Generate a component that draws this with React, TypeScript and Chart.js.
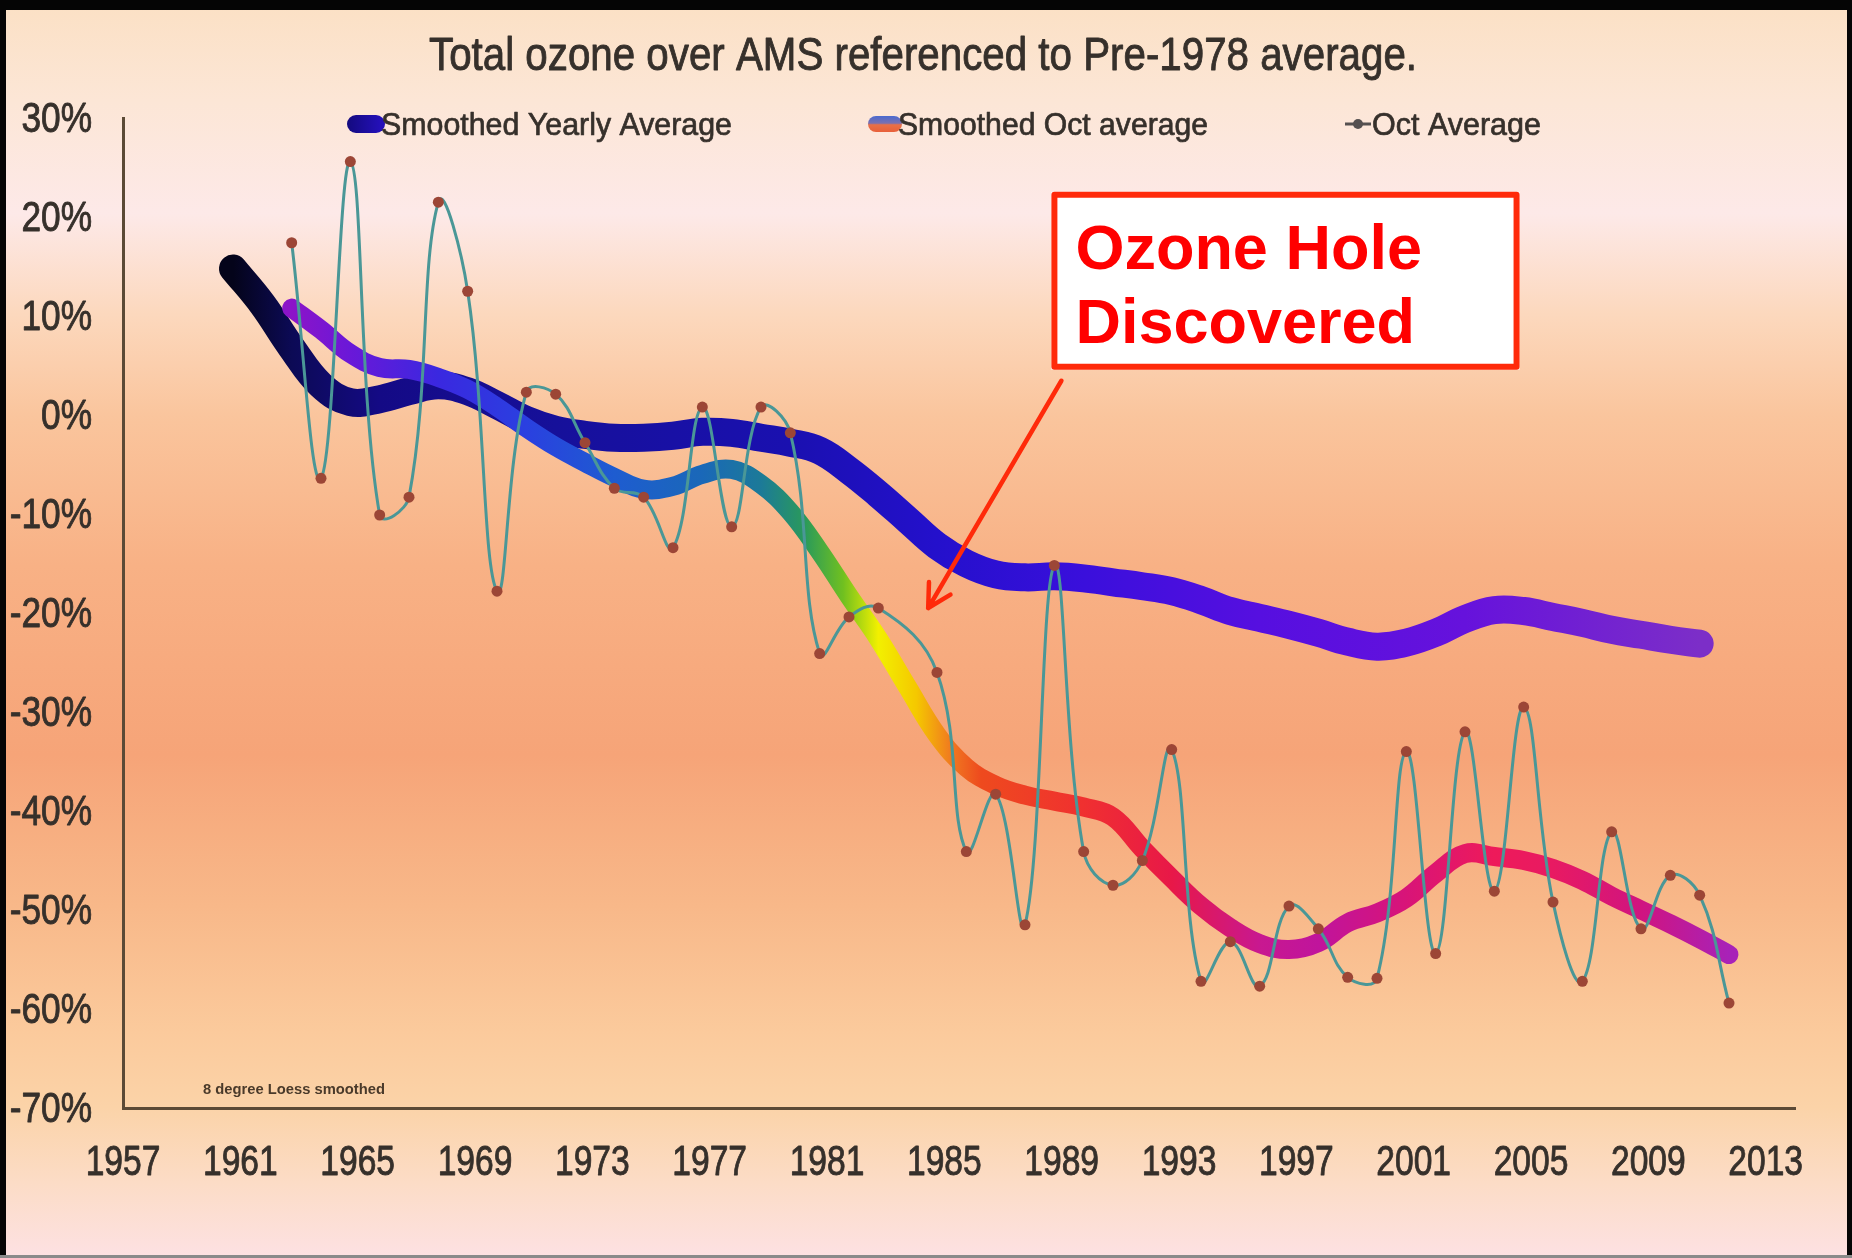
import React, { useEffect, useRef } from 'react';
import { Chart, registerables } from 'chart.js';

Chart.register(...registerables);

// ---------------- data ----------------
const OCT_YEARS = [
  1963, 1964, 1965, 1966, 1967, 1968, 1969, 1970, 1971, 1972,
  1973, 1974, 1975, 1976, 1977, 1978, 1979, 1980, 1981, 1982,
  1983, 1984, 1985, 1986, 1987, 1988, 1989, 1990, 1991, 1992,
  1993, 1994, 1995, 1996, 1997, 1998, 1999, 2000, 2001, 2002,
  2003, 2004, 2005, 2006, 2007, 2008, 2009, 2010, 2011, 2012,
];

const OCT_AVERAGE = [
  17.4, -6.4, 25.6, -10.1, -8.3, 21.5, 12.5, -17.8, 2.3, 2.1,
  -2.8, -7.4, -8.3, -13.4, 0.8, -11.3, 0.8, -1.8, -24.1, -20.4,
  -19.5, null, -26.0, -44.1, -38.3, -51.5, -15.2, -44.1, -47.5, -45.0,
  -33.8, -57.2, -53.2, -57.7, -49.6, -51.9, -56.8, -56.9, -34.0, -54.4,
  -32.0, -48.1, -29.5, -49.2, -57.2, -42.1, -51.9, -46.5, -48.5, -59.4,
];

const SMOOTHED_OCT = [
  10.8, 8.6, 6.2, 4.8, 4.6, 3.8, 2.6, 0.8, -1.3, -3.2,
  -4.8, -6.3, -7.5, -7.2, -6.0, -5.5, -7.0, -9.8, -13.8, -18.3,
  -22.6, -27.5, -32.3, -35.6, -37.4, -38.4, -39.0, -39.6, -40.6, -43.8,
  -46.8, -49.6, -51.8, -53.4, -54.0, -53.3, -51.3, -50.3, -48.8, -46.3,
  -44.3, -44.6, -45.0, -45.8, -47.0, -48.6, -50.0, -51.4, -52.9, -54.5,
];

const YEARLY_YEARS = [
  1961, 1962, 1963, 1964, 1965, 1966, 1967, 1968, 1969, 1970,
  1971, 1972, 1973, 1974, 1975, 1976, 1977, 1978, 1979, 1980,
  1981, 1982, 1983, 1984, 1985, 1986, 1987, 1988, 1989, 1990,
  1991, 1992, 1993, 1994, 1995, 1996, 1997, 1998, 1999, 2000,
  2001, 2002, 2003, 2004, 2005, 2006, 2007, 2008, 2009, 2010,
  2011,
];

const SMOOTHED_YEARLY = [
  14.8, 11.2, 6.8, 3.0, 1.3, 1.6, 2.4, 3.0, 2.4, 1.0,
  -0.5, -1.5, -2.0, -2.3, -2.3, -2.1, -1.7, -1.8, -2.3, -2.8,
  -3.6, -5.6, -8.0, -10.6, -13.2, -15.0, -16.1, -16.4, -16.3, -16.5,
  -16.9, -17.3, -17.8, -18.7, -19.8, -20.5, -21.2, -22.0, -22.9, -23.4,
  -23.0, -22.0, -20.6, -19.7, -19.8, -20.4, -21.0, -21.7, -22.2, -22.7,
  -23.1,
];

const X_TICK_LABELS = [1957, 1961, 1965, 1969, 1973, 1977, 1981, 1985, 1989, 1993, 1997, 2001, 2005, 2009, 2013];
const TICK_OFFSET = 0.25; // Excel places labels a quarter year before the October points
const X_MIN = 1957.25;
const X_MAX = 2014.25;
const Y_MIN = -70;
const Y_MAX = 30;
const Y_STEP = 10;

const TITLE = 'Total ozone over AMS referenced to Pre-1978 average.';
const LABEL_YEARLY = 'Smoothed Yearly Average';
const LABEL_SMOOTH_OCT = 'Smoothed Oct average';
const LABEL_OCT = 'Oct Average';
const NOTE = '8 degree Loess smoothed';
const CALLOUT_LINES = ['Ozone Hole', 'Discovered'];
// callout anchors in axis units
const CALLOUT_BOX = { x0: 1988.9, x1: 2004.86, yTop: 22.55, yBottom: 4.57 };
const ARROW_TIP = { x: 1984.7, y: -19.5 };

// colour ramps along the year axis
const YEARLY_STOPS: [number, string][] = [
  [1961, '#04041a'], [1963, '#0c0a55'], [1966, '#140a85'], [1972, '#16109a'],
  [1980, '#1a10b0'], [1985, '#2410cc'], [1990, '#3a0fdc'], [1996, '#560fe0'],
  [2003, '#6612dc'], [2011, '#7c2ec8'],
];
const OCT_STOPS: [number, string][] = [
  [1963, '#8c14c8'], [1965, '#6a18d8'], [1968, '#3a28e0'], [1971, '#2a40e0'],
  [1974, '#1e5cd0'], [1977, '#1a68b8'], [1979, '#1c7a98'], [1980.5, '#2a9a5a'],
  [1981.8, '#70c020'], [1983, '#f2f000'], [1984.3, '#f5c800'], [1985.5, '#f07820'],
  [1986.5, '#ee4a1e'], [1990, '#f03030'], [1993, '#e81848'], [1996, '#c81890'],
  [1998, '#c0149c'], [2001, '#d81478'], [2004, '#ee1a5a'], [2006, '#e81a62'],
  [2009, '#d01480'], [2012, '#a822b8'],
];

const SANS = "'Liberation Sans', Arial, sans-serif";
const TEXT_COLOR = '#36302b';
const TICK_FONT = `42px ${SANS}`;
const TICK_SQUEEZE = 0.8;

const W = 1852;
const H = 1258;

function rampGradient(chart: any, stops: [number, string][]) {
  const xs = chart.scales && chart.scales.x;
  if (!xs || !chart.chartArea) return stops[0][1];
  const x0 = xs.getPixelForValue(stops[0][0]) - 20;
  const x1 = xs.getPixelForValue(stops[stops.length - 1][0]) + 20;
  const g = chart.ctx.createLinearGradient(x0, 0, x1, 0);
  stops.forEach(([yr, c]) => {
    const t = Math.min(1, Math.max(0, (xs.getPixelForValue(yr) - x0) / (x1 - x0)));
    g.addColorStop(t, c);
  });
  return g;
}

// draw text squeezed horizontally (narrow face look), slightly heavier
function squeezed(ctx: CanvasRenderingContext2D, text: string, x: number, y: number, sx: number, align: CanvasTextAlign, weight = 0.9) {
  ctx.save();
  ctx.translate(x, y);
  ctx.scale(sx, 1);
  ctx.textAlign = align;
  ctx.fillText(text, 0, 0);
  if (weight > 0) {
    ctx.strokeStyle = ctx.fillStyle as string;
    ctx.lineWidth = weight;
    ctx.lineJoin = 'round';
    ctx.strokeText(text, 0, 0);
  }
  ctx.restore();
}

function fitted(ctx: CanvasRenderingContext2D, text: string, x: number, y: number, width: number, align: CanvasTextAlign, weight = 0.9) {
  const w = ctx.measureText(text).width;
  squeezed(ctx, text, x, y, width / w, align, weight);
}

const backgroundPlugin = {
  id: 'pageBackground',
  beforeDraw(chart: any) {
    const { ctx } = chart;
    ctx.save();
    const g = ctx.createLinearGradient(0, 0, 0, H);
    g.addColorStop(0.0, '#fbe0c4');
    g.addColorStop(0.08, '#fce6d6');
    g.addColorStop(0.17, '#fde9e8');
    g.addColorStop(0.25, '#fcd8bd');
    g.addColorStop(0.33, '#fac59d');
    g.addColorStop(0.45, '#f8b185');
    g.addColorStop(0.6, '#f6a478');
    g.addColorStop(0.72, '#f8b889');
    g.addColorStop(0.82, '#fbca9c');
    g.addColorStop(0.88, '#fbd3a8');
    g.addColorStop(0.94, '#fcdcc6');
    g.addColorStop(1.0, '#fde1e3');
    ctx.fillStyle = g;
    ctx.fillRect(0, 0, W, H);
    ctx.restore();
  },
};

// tick labels from the library's own scale ticks, drawn in a narrow style
const tickLabelPlugin = {
  id: 'narrowTicks',
  afterDraw(chart: any) {
    const { ctx, chartArea } = chart;
    const xs = chart.scales.x;
    const ys = chart.scales.y;
    ctx.save();
    ctx.fillStyle = TEXT_COLOR;
    ctx.font = TICK_FONT;
    ctx.textBaseline = 'middle';
    xs.ticks.forEach((t: any, i: number) => {
      const px = xs.getPixelForTick(i);
      squeezed(ctx, String(t.label), px, chartArea.bottom + 55, TICK_SQUEEZE, 'center');
    });
    ys.ticks.forEach((t: any, i: number) => {
      const py = ys.getPixelForTick(i);
      squeezed(ctx, String(t.label), chartArea.left - 31, py + 2, 0.84, 'right');
    });
    ctx.restore();
  },
};

const overlayPlugin = {
  id: 'overlay',
  afterDraw(chart: any) {
    const { ctx } = chart;
    const xs = chart.scales.x;
    const ys = chart.scales.y;
    ctx.save();

    // title
    ctx.fillStyle = TEXT_COLOR;
    ctx.font = `47px ${SANS}`;
    ctx.textBaseline = 'alphabetic';
    fitted(ctx, TITLE, 923, 70, 988, 'center');

    // legend
    const ds = chart.data.datasets;
    const legendY = 124;
    ctx.font = `32px ${SANS}`;
    ctx.textBaseline = 'middle';
    // item 1 : yearly swatch
    ctx.lineCap = 'round';
    ctx.lineWidth = 18;
    const g1 = ctx.createLinearGradient(348, 0, 380, 0);
    g1.addColorStop(0, '#140a80');
    g1.addColorStop(1, '#2410b8');
    ctx.strokeStyle = g1;
    ctx.beginPath();
    ctx.moveTo(356, legendY);
    ctx.lineTo(376, legendY);
    ctx.stroke();
    ctx.fillStyle = TEXT_COLOR;
    fitted(ctx, ds[2].label, 381, legendY + 2, 351, 'left', 0.7);
    // item 2 : smoothed oct swatch
    const g2 = ctx.createLinearGradient(0, legendY - 8, 0, legendY + 8);
    g2.addColorStop(0, '#4a6ad0');
    g2.addColorStop(0.45, '#7a70b0');
    g2.addColorStop(0.55, '#e87048');
    g2.addColorStop(1, '#e8603a');
    ctx.strokeStyle = g2;
    ctx.lineWidth = 16;
    ctx.beginPath();
    ctx.moveTo(876, legendY);
    ctx.lineTo(894, legendY);
    ctx.stroke();
    ctx.fillStyle = TEXT_COLOR;
    fitted(ctx, ds[1].label, 898, legendY + 2, 310, 'left', 0.7);
    // item 3 : oct average marker
    ctx.strokeStyle = '#555050';
    ctx.lineWidth = 3;
    ctx.lineCap = 'butt';
    ctx.beginPath();
    ctx.moveTo(1345, legendY);
    ctx.lineTo(1371, legendY);
    ctx.stroke();
    ctx.fillStyle = '#555050';
    ctx.beginPath();
    ctx.arc(1358, legendY, 5, 0, Math.PI * 2);
    ctx.fill();
    ctx.fillStyle = TEXT_COLOR;
    fitted(ctx, ds[0].label, 1372, legendY + 2, 169, 'left', 0.7);

    // note
    ctx.font = `bold 15px ${SANS}`;
    ctx.fillStyle = '#4a3a2a';
    ctx.textBaseline = 'middle';
    fitted(ctx, NOTE, 203, 1090, 182, 'left', 0);

    // callout box
    const bx0 = xs.getPixelForValue(CALLOUT_BOX.x0);
    const bx1 = xs.getPixelForValue(CALLOUT_BOX.x1);
    const by0 = ys.getPixelForValue(CALLOUT_BOX.yTop);
    const by1 = ys.getPixelForValue(CALLOUT_BOX.yBottom);
    ctx.fillStyle = '#ffffff';
    ctx.fillRect(bx0, by0, bx1 - bx0, by1 - by0);
    ctx.strokeStyle = '#ff2a0a';
    ctx.lineWidth = 6;
    ctx.lineJoin = 'round';
    ctx.strokeRect(bx0 + 3, by0 + 3, bx1 - bx0 - 6, by1 - by0 - 6);
    ctx.fillStyle = '#ff0000';
    ctx.font = `bold 63px ${SANS}`;
    ctx.textBaseline = 'alphabetic';
    ctx.textAlign = 'left';
    ctx.fillText(CALLOUT_LINES[0], bx0 + 24, by0 + 77);
    ctx.fillText(CALLOUT_LINES[1], bx0 + 24, by0 + 151);

    // arrow
    const tx = xs.getPixelForValue(ARROW_TIP.x);
    const ty = ys.getPixelForValue(ARROW_TIP.y);
    const sx = bx0 + 10;
    const sy = by1 + 11;
    ctx.strokeStyle = '#ff2a0a';
    ctx.lineWidth = 4.5;
    ctx.lineCap = 'round';
    ctx.beginPath();
    ctx.moveTo(sx, sy);
    ctx.lineTo(tx, ty);
    const ang = Math.atan2(ty - sy, tx - sx);
    const hl = 26;
    const spread = 0.5;
    ctx.moveTo(tx - hl * Math.cos(ang - spread), ty - hl * Math.sin(ang - spread));
    ctx.lineTo(tx, ty);
    ctx.lineTo(tx - hl * Math.cos(ang + spread), ty - hl * Math.sin(ang + spread));
    ctx.stroke();

    // frame
    ctx.fillStyle = '#050505';
    ctx.fillRect(0, 0, W, 10);
    ctx.fillRect(0, 0, 6, H);
    ctx.fillRect(W - 5, 0, 5, H);
    ctx.fillStyle = '#8a8a8a';
    ctx.fillRect(0, H - 3, W, 3);
    ctx.restore();
  },
};

export default function App() {
  const canvasRef = useRef<HTMLCanvasElement | null>(null);

  useEffect(() => {
    if (!canvasRef.current) return;
    const chart = new Chart(canvasRef.current, {
      type: 'line',
      data: {
        datasets: [
          {
            label: LABEL_OCT,
            data: OCT_YEARS.map((yr, i) => ({ x: yr, y: OCT_AVERAGE[i] })),
            borderColor: '#4a9797',
            borderWidth: 3,
            tension: 0.4,
            spanGaps: true,
            pointRadius: 5.5,
            pointBackgroundColor: '#9c4636',
            pointBorderColor: '#9c4636',
            pointBorderWidth: 0,
            fill: false,
          },
          {
            label: LABEL_SMOOTH_OCT,
            data: OCT_YEARS.map((yr, i) => ({ x: yr, y: SMOOTHED_OCT[i] })),
            borderColor: (c: any) => rampGradient(c.chart, OCT_STOPS),
            borderWidth: 19,
            borderCapStyle: 'round',
            borderJoinStyle: 'round',
            tension: 0.4,
            pointRadius: 0,
            fill: false,
          },
          {
            label: LABEL_YEARLY,
            data: YEARLY_YEARS.map((yr, i) => ({ x: yr, y: SMOOTHED_YEARLY[i] })),
            borderColor: (c: any) => rampGradient(c.chart, YEARLY_STOPS),
            borderWidth: 28,
            borderCapStyle: 'round',
            borderJoinStyle: 'round',
            tension: 0.4,
            pointRadius: 0,
            fill: false,
          },
        ],
      },
      options: {
        animation: false,
        responsive: false,
        devicePixelRatio: 1,
        events: [],
        layout: { padding: { top: 118, right: 57, bottom: 0, left: 0 } },
        plugins: {
          legend: { display: false },
          title: { display: false },
          tooltip: { enabled: false },
        },
        scales: {
          x: {
            type: 'linear',
            min: X_MIN,
            max: X_MAX,
            afterBuildTicks: (scale: any) => {
              scale.ticks = X_TICK_LABELS.map((v) => ({ value: v + TICK_OFFSET }));
            },
            afterFit: (scale: any) => {
              scale.height = 150;
            },
            grid: { display: true, drawOnChartArea: false, drawTicks: false, color: 'rgba(0,0,0,0)' },
            border: { display: true, color: '#5b4a36', width: 3 },
            ticks: {
              display: false,
              autoSkip: false,
              maxRotation: 0,
              font: { family: SANS, size: 42 },
              callback: (v: any) => String(Math.round(Number(v) - TICK_OFFSET)),
            },
          },
          y: {
            type: 'linear',
            min: Y_MIN,
            max: Y_MAX,
            afterFit: (scale: any) => {
              scale.width = 123;
            },
            grid: { display: true, drawOnChartArea: false, drawTicks: false, color: 'rgba(0,0,0,0)' },
            border: { display: true, color: '#5b4a36', width: 3 },
            ticks: {
              display: false,
              stepSize: Y_STEP,
              font: { family: SANS, size: 42 },
              callback: (v: any) => `${v}%`,
            },
          },
        },
      },
      plugins: [backgroundPlugin, tickLabelPlugin, overlayPlugin],
    } as any);
    return () => chart.destroy();
  }, []);

  return (
    <div style={{ position: 'absolute', left: 0, top: 0, width: W, height: H }}>
      <canvas ref={canvasRef} width={W} height={H} style={{ display: 'block', width: W, height: H }} />
    </div>
  );
}
